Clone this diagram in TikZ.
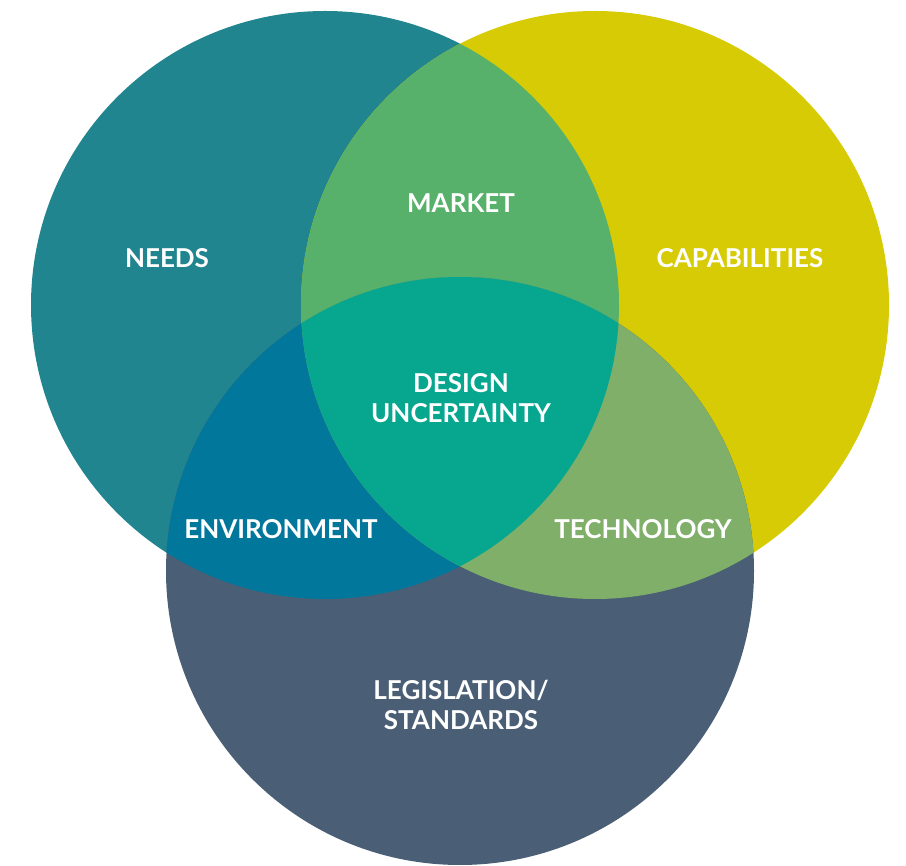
\documentclass[tikz,border=0pt]{standalone}
\usepackage{fontspec}
\setmainfont{Lato}
\definecolor{needs}{HTML}{21858F}
\definecolor{capab}{HTML}{D6CB04}
\definecolor{legis}{HTML}{4A5F76}
\definecolor{market}{HTML}{58B16A}
\definecolor{environ}{HTML}{02779C}
\definecolor{techno}{HTML}{80AF69}
\definecolor{design}{HTML}{07A68F}
\begin{document}
\begin{tikzpicture}[x=1pt,y=-1pt,font=\fontsize{26}{30}\selectfont\bfseries,
  label/.style={white,align=center,inner sep=0pt}]
\useasboundingbox (0,0) rectangle (906,866);
\def\rad{294}
\fill[needs] (325,305) circle (\rad);
\fill[capab] (595,305) circle (\rad);
\fill[legis] (460,571) circle (\rad);

% overlaps
\begin{scope}
\clip (325,305) circle (\rad);
\fill[market] (595,305) circle (\rad);
\fill[environ] (460,571) circle (\rad);
\end{scope}
\begin{scope}
\clip (595,305) circle (\rad);
\fill[techno] (460,571) circle (\rad);
\end{scope}
\begin{scope}
\clip (325,305) circle (\rad);
\clip (595,305) circle (\rad);
\fill[design] (460,571) circle (\rad);
\end{scope}

\node[label] (needs) at (167,258) {NEEDS};
\node[label] (market) at (461,203) {MARKET};
\node[label] (capab) at (740,258) {CAPABILITIES};
\node[label] (design) at (461,398) {DESIGN\\UNCERTAINTY};
\node[label] (environ) at (281,529) {ENVIRONMENT};
\node[label] (techno) at (643,529) {TECHNOLOGY};
\node[label] (legis) at (461,705) {LEGISLATION/\\STANDARDS};
\end{tikzpicture}
\end{document}
